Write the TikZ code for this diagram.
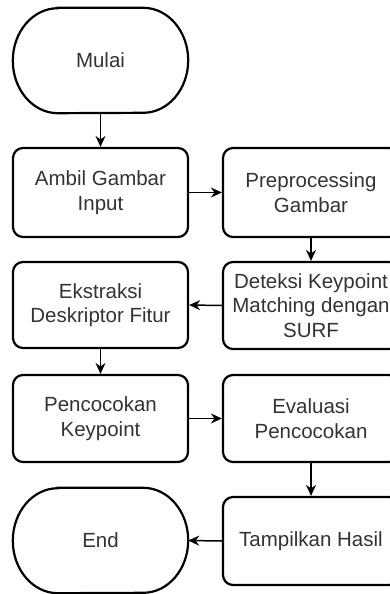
\documentclass[tikz,border=0pt]{standalone}
\usepackage{fontspec}
\setmainfont{Liberation Sans}
\usetikzlibrary{arrows.meta}
\definecolor{txtgray}{HTML}{333333}
\tikzset{
  procbox/.style={draw=black, line width=2.2pt, rounded corners=10pt, fill=white,
    minimum width=175pt, minimum height=88pt, align=center, text=txtgray,
    font=\fontsize{20.5pt}{24.5pt}\selectfont, inner sep=0pt},
  termnode/.style={draw=none, minimum width=175pt, minimum height=105pt,
    text=txtgray, font=\fontsize{20.5pt}{24.5pt}\selectfont, inner sep=0pt},
  termline/.style={draw=black, line width=2.2pt},
  flow/.style={draw=black, line width=1.5pt, -{Stealth[length=11pt,width=10pt]}}
}
\begin{document}
\begin{tikzpicture}[x=1pt,y=-1pt]
\useasboundingbox (0,0) rectangle (390,594);
\clip (0,0) rectangle (390,594);

% terminals
\node[termnode] (mulai) at (100.5,60.5) {Mulai};
\node[termnode] (end) at (100.5,540.5) {End};
\foreach \t in {mulai,end}{
  \draw[termline] ([xshift=45pt]\t.north west) -- ([xshift=-45pt]\t.north east)
    arc[start angle=90,end angle=-90,x radius=45pt,y radius=52.5pt]
    -- ([xshift=45pt]\t.south west)
    arc[start angle=270,end angle=90,x radius=45pt,y radius=52.5pt] -- cycle;
}

% process steps
\node[procbox, minimum height=89pt] (ambil) at (100.5,192.5) {Ambil Gambar\\Input};
\node[procbox, minimum height=89pt, minimum width=176pt] (prep) at (311,192.5) {Preprocessing\\Gambar};
\node[procbox, minimum width=176pt, minimum height=87pt] (deteksi) at (311,305.5) {Deteksi Keypoint\\Matching dengan\\SURF};
\node[procbox, minimum height=86pt] (ekstraksi) at (100.5,305) {Ekstraksi\\Deskriptor Fitur};
\node[procbox, minimum height=87pt] (cocok) at (100.5,418.5) {Pencocokan\\Keypoint};
\node[procbox, minimum width=176pt, minimum height=87pt] (eval) at (311,418.5) {Evaluasi\\Pencocokan};
\node[procbox, minimum width=176pt] (hasil) at (311,541) {Tampilkan Hasil};

% connectors
\draw[flow] (mulai.south) -- (ambil.north);
\draw[flow] (ambil.east) -- (prep.west);
\draw[flow] (prep.south) -- (deteksi.north);
\draw[flow] (deteksi.west) -- (ekstraksi.east);
\draw[flow] (ekstraksi.south) -- (cocok.north);
\draw[flow] (cocok.east) -- (eval.west);
\draw[flow] (eval.south) -- (hasil.north);
\draw[flow] (hasil.west) -- (end.east);
\end{tikzpicture}
\end{document}
